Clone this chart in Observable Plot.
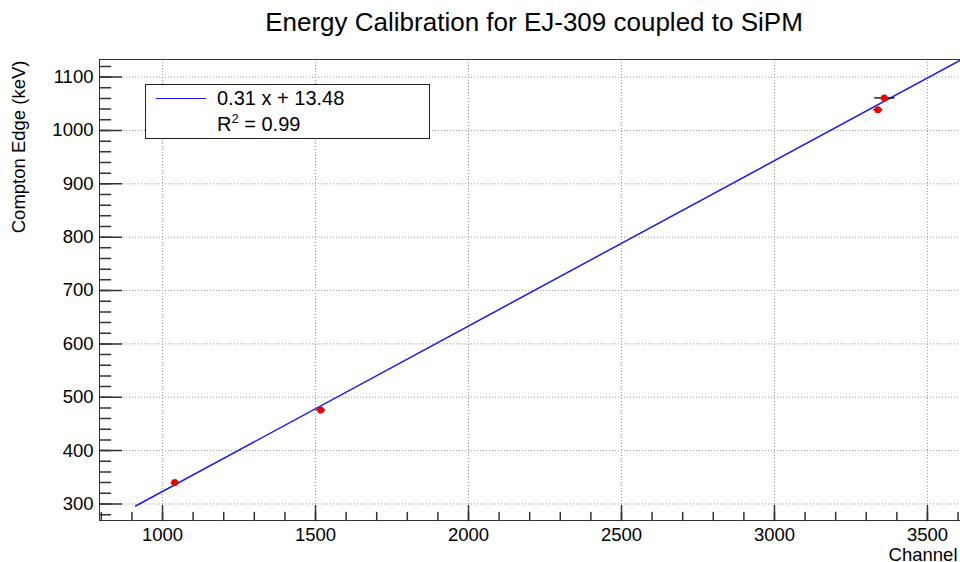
<!DOCTYPE html>
<html><head><meta charset="utf-8">
<script src="https://cdn.jsdelivr.net/npm/d3@7"></script>
<script src="https://cdn.jsdelivr.net/npm/@observablehq/plot@0.6"></script>
<style>
body{margin:0;background:#fff;}
#wrap{position:relative;width:960px;height:562px;overflow:hidden;font-family:"Liberation Sans",Arial,sans-serif;color:#000;}
#legend{position:absolute;left:145px;top:84px;width:283px;height:53px;border:1px solid #222;background:#fff;font-size:20px;line-height:20px;}
#legend .sw{position:absolute;left:10px;top:13px;width:50px;border-top:1.5px solid #1a1aee;}
#legend .t{position:absolute;left:71px;white-space:nowrap;}
#legend sup{font-size:13px;line-height:0;vertical-align:8px;}
</style></head><body><div id="wrap"></div>
<script>
// measured points (Channel vs Compton edge), with horizontal error
const channel = [1040, 1517, 3338, 3359];
const comptonEdge = [340, 476, 1039, 1061];
const channelErr = [13, 15, 15, 33];
// fitted line endpoints (0.31 x + 13.48)
const fitX = [912, 3608];
const fitY = [296.2, 1131.96];
const legendLines = ["0.31 x + 13.48", "R<sup>2</sup> = 0.99"];
const xTicks = [1000, 1500, 2000, 2500, 3000, 3500];
const yTicks = [300, 400, 500, 600, 700, 800, 900, 1000, 1100];
const xMinor = d3.range(800, 3601, 100);
const yMinor = d3.range(280, 1121, 20);
const xDomain = [794, 3608];
const yDomain = [269, 1133];

const points = channel.map((c, i) => ({x: c, y: comptonEdge[i], ex: channelErr[i]}));
const fit = fitX.map((x, i) => ({x, y: fitY[i]}));

const tickShape = {draw(ctx, l) { ctx.moveTo(0, 0); ctx.lineTo(0, -l); }};

const chart = Plot.plot({
  width: 960, height: 562,
  marginLeft: 99, marginRight: 0, marginTop: 59, marginBottom: 42,
  style: {fontFamily: '"Liberation Sans", Arial, sans-serif', fontSize: "18px", background: "white", color: "black"},
  x: {domain: xDomain},
  y: {domain: yDomain},
  marks: [
    Plot.gridX(xTicks, {stroke: "#999", strokeOpacity: 1, strokeDasharray: "1,2"}),
    Plot.gridY(yTicks, {stroke: "#999", strokeOpacity: 1, strokeDasharray: "1,2"}),
    Plot.ruleX([xDomain[0]], {stroke: "#333"}),
    Plot.ruleY(yDomain, {stroke: "#333"}),
    Plot.vector(xMinor, {x: d => d, frameAnchor: "bottom", length: 8, rotate: 0, anchor: "start", shape: tickShape, stroke: "#333"}),
    Plot.vector(xTicks, {x: d => d, frameAnchor: "bottom", length: 15, rotate: 0, anchor: "start", shape: tickShape, stroke: "#333"}),
    Plot.vector(yMinor, {y: d => d, frameAnchor: "left", length: 11, rotate: 90, anchor: "start", shape: tickShape, stroke: "#333"}),
    Plot.vector(yTicks, {y: d => d, frameAnchor: "left", length: 22, rotate: 90, anchor: "start", shape: tickShape, stroke: "#333"}),
    Plot.axisX(xTicks, {tickSize: 0, tickPadding: 7, fontSize: 18.5, fill: "black", label: null, tickFormat: d => String(d)}),
    Plot.axisY(yTicks, {tickSize: 0, tickPadding: 6, fontSize: 18.5, fill: "black", label: null, tickFormat: d => String(d)}),
    Plot.line(fit, {x: "x", y: "y", stroke: "#1a1aee", strokeWidth: 1.5, clip: true}),
    Plot.link(points, {x1: d => d.x - d.ex, x2: d => d.x + d.ex, y1: "y", y2: "y", stroke: "black", strokeWidth: 1.3}),
    Plot.dot(points, {x: "x", y: "y", r: 3.5, fill: "#ee0000"}),
    Plot.text(["Energy Calibration for EJ-309 coupled to SiPM"], {text: d => d, frameAnchor: "top", dx: 4, dy: -29, lineAnchor: "bottom", fontSize: 26, fill: "black"}),
    Plot.text(["Compton Edge (keV)"], {text: d => d, frameAnchor: "top-left", dx: -75, dy: 1, rotate: -90, textAnchor: "end", lineAnchor: "bottom", fontSize: 18.5, fill: "black"}),
    Plot.text(["Channel"], {text: d => d, frameAnchor: "bottom-right", dx: -3, dy: 40, textAnchor: "end", lineAnchor: "bottom", fontSize: 18.5, fill: "black"})
  ]
});

const wrap = document.getElementById("wrap");
wrap.appendChild(chart);
const lg = document.createElement("div");
lg.id = "legend";
lg.innerHTML = `<div class="sw"></div><div class="t" style="top:3px">${legendLines[0]}</div><div class="t" style="top:29px">${legendLines[1]}</div>`;
wrap.appendChild(lg);
</script>
</body></html>
